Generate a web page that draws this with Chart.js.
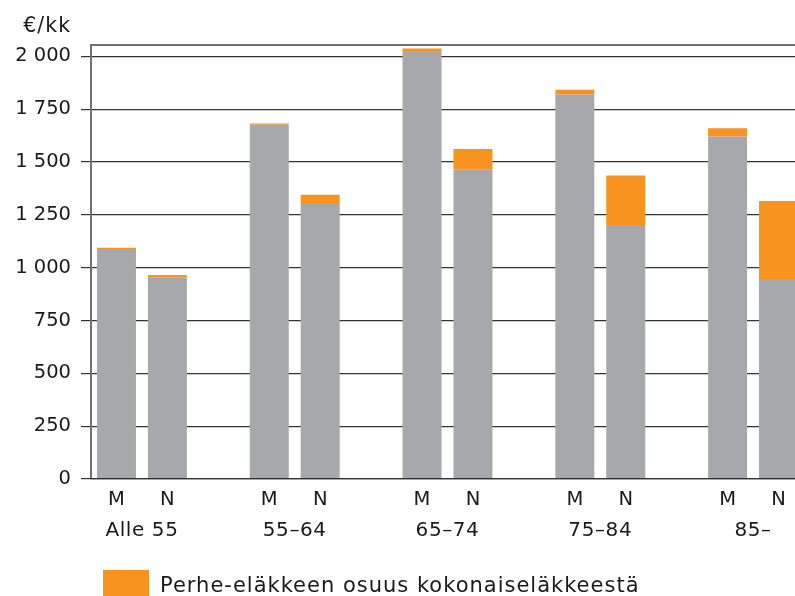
<!DOCTYPE html>
<html><head><meta charset="utf-8">
<script src="https://cdn.jsdelivr.net/npm/chart.js@4/dist/chart.umd.min.js"></script>
<style>
html,body{margin:0;padding:0;background:#fff;overflow:hidden;width:795px;height:596px;}
#wrap{position:relative;width:804px;height:596px;}
canvas{display:block;}
</style></head><body>
<div id="wrap"><canvas id="c" width="804" height="596"></canvas></div>
<script>
// ---- data ----
const groups = ['Alle 55', '55–64', '65–74', '75–84', '85–'];
const categories = ['M', 'N', '', 'M', 'N', '', 'M', 'N', '', 'M', 'N', '', 'M', 'N'];
const ownPension = [1088, 955, null, 1676, 1306, null, 2026, 1466, null, 1820, 1202, null, 1621, 946];
const familyShare = [7, 10, null, 7, 39, null, 12, 96, null, 22, 234, null, 39, 370];
const yTicks = [0, 250, 500, 750, 1000, 1250, 1500, 1750, 2000];
const unitLabel = '€/kk';
const legendLabel = 'Perhe-eläkkeen osuus kokonaiseläkkeestä';

// ---- style ----
const FONT = '"DejaVu Sans", "Noto Sans", sans-serif';
const TEXT = '#1a1a1a';
const GRAY = '#a7a8ab';
const ORANGE = '#f7931e';

function fmt(v) {
  return String(v).replace(/\B(?=(\d{3})+(?!\d))/g, ' ');
}

const extras = {
  id: 'extras',
  afterDraw(chart) {
    const { ctx, chartArea, scales: { x } } = chart;
    ctx.save();
    // top frame line
    ctx.strokeStyle = '#707070';
    ctx.lineWidth = 2;
    ctx.beginPath();
    ctx.moveTo(chartArea.left - 1, chartArea.top);
    ctx.lineTo(chartArea.right, chartArea.top);
    ctx.stroke();
    // unit label
    ctx.fillStyle = TEXT;
    ctx.font = '20.5px ' + FONT;
    ctx.letterSpacing = '1px';
    ctx.textAlign = 'right';
    ctx.textBaseline = 'alphabetic';
    ctx.fillText(unitLabel, chartArea.left - 20, 32);
    // group labels
    ctx.font = '20px ' + FONT;
    ctx.letterSpacing = '0.6px';
    ctx.textAlign = 'center';
    groups.forEach((g, i) => {
      const cx = (x.getPixelForValue(i * 3) + x.getPixelForValue(i * 3 + 1)) / 2;
      ctx.fillText(g, cx, chartArea.bottom + 57);
    });
    // legend
    ctx.fillStyle = ORANGE;
    ctx.fillRect(chartArea.left + 12, 570, 46, 26);
    ctx.fillStyle = TEXT;
    ctx.font = '21px ' + FONT;
    ctx.letterSpacing = '1px';
    ctx.textAlign = 'left';
    ctx.fillText(legendLabel, chartArea.left + 69, 592);
    ctx.restore();
  }
};

new Chart(document.getElementById('c'), {
  type: 'bar',
  data: {
    labels: categories,
    datasets: [
      { label: 'Oma eläke', data: ownPension, backgroundColor: GRAY, stack: 's' },
      { label: legendLabel, data: familyShare, backgroundColor: ORANGE, stack: 's' }
    ]
  },
  options: {
    responsive: false,
    animation: false,
    devicePixelRatio: 1,
    layout: { padding: { top: 45, left: 0, right: 0, bottom: 0 } },
    plugins: { legend: { display: false }, tooltip: { enabled: false } },
    datasets: { bar: { categoryPercentage: 1, barPercentage: 0.766 } },
    scales: {
      x: {
        stacked: true,
        grid: { display: false, drawTicks: false },
        border: { display: true, color: '#333', width: 1.2, z: 1 },
        ticks: { font: { family: FONT, size: 19.5 }, color: TEXT, padding: 9, maxRotation: 0, autoSkip: false },
        afterFit(s) { s.height = 117; }
      },
      y: {
        stacked: true,
        min: 0,
        max: 2054,
        afterBuildTicks(s) { s.ticks = yTicks.map(v => ({ value: v })); },
        ticks: { callback: v => fmt(v), padding: 10, font: { family: FONT, size: 19.5 }, color: TEXT },
        grid: { color: '#333', lineWidth: 1.2, tickLength: 10, drawTicks: true },
        border: { color: '#707070', width: 2 },
        afterFit(s) { s.width = 91; }
      }
    }
  },
  plugins: [extras]
});
</script>
</body></html>
